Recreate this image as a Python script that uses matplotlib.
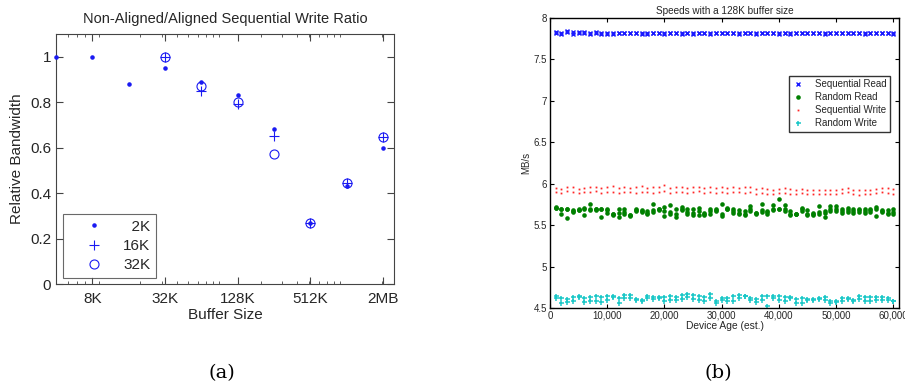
import matplotlib
matplotlib.use("Agg")
import matplotlib.pyplot as plt
from matplotlib.ticker import FixedLocator, FuncFormatter, LogLocator, NullFormatter
import numpy as np

# ---------------- Panel (a) data ----------------
buffer_k = [4, 8, 16, 32, 64, 128, 256, 512, 1024, 2048]
tick_vals = [8, 32, 128, 512, 2048]
tick_labels = ["8K", "32K", "128K", "512K", "2MB"]
ratio_2k = [1.0, 1.0, 0.88, 0.95, 0.89, 0.83, 0.68, 0.27, 0.43, 0.60]
buffer_k_big = [32, 64, 128, 256, 512, 1024, 2048]
ratio_16k = [1.0, 0.85, 0.79, 0.65, 0.27, 0.445, 0.645]
ratio_32k = [1.0, 0.87, 0.80, 0.57, 0.27, 0.445, 0.645]
legend_a = ["  2K", "16K", "32K"]

# ---------------- Panel (b) data ----------------
age = [1000 * k for k in range(1, 61)]
seq_read_1 = [7.83, 7.82, 7.84, 7.83, 7.83, 7.83, 7.82, 7.83, 7.82, 7.82,
              7.82, 7.82, 7.82, 7.82, 7.82, 7.82, 7.82, 7.82, 7.82, 7.82,
              7.82, 7.82, 7.82, 7.82, 7.82, 7.82, 7.82, 7.82, 7.82, 7.82,
              7.82, 7.82, 7.82, 7.82, 7.82, 7.82, 7.82, 7.82, 7.82, 7.82,
              7.82, 7.82, 7.82, 7.82, 7.82, 7.82, 7.82, 7.82, 7.82, 7.82,
              7.82, 7.82, 7.82, 7.82, 7.82, 7.82, 7.82, 7.82, 7.82, 7.82]
seq_read_2 = [7.82, 7.81, 7.83, 7.81, 7.82, 7.82, 7.81, 7.82, 7.81, 7.81,
              7.81, 7.82, 7.82, 7.82, 7.82, 7.81, 7.81, 7.82, 7.82, 7.81,
              7.82, 7.82, 7.81, 7.82, 7.81, 7.82, 7.82, 7.81, 7.82, 7.82,
              7.82, 7.82, 7.81, 7.82, 7.82, 7.81, 7.82, 7.82, 7.82, 7.81,
              7.82, 7.81, 7.82, 7.82, 7.82, 7.82, 7.82, 7.81, 7.82, 7.82,
              7.82, 7.82, 7.82, 7.82, 7.81, 7.82, 7.82, 7.82, 7.82, 7.81]
rand_read_1 = [5.72, 5.70, 5.69, 5.68, 5.69, 5.71, 5.76, 5.70, 5.69, 5.70,
               5.64, 5.70, 5.69, 5.62, 5.70, 5.68, 5.67, 5.75, 5.69, 5.72,
               5.74, 5.69, 5.72, 5.69, 5.70, 5.71, 5.65, 5.70, 5.69, 5.75,
               5.71, 5.69, 5.68, 5.67, 5.73, 5.65, 5.75, 5.67, 5.74, 5.82,
               5.74, 5.67, 5.64, 5.71, 5.68, 5.65, 5.73, 5.67, 5.73, 5.73,
               5.70, 5.71, 5.70, 5.70, 5.69, 5.70, 5.72, 5.68, 5.68, 5.69]
rand_read_2 = [5.71, 5.64, 5.59, 5.66, 5.68, 5.62, 5.68, 5.68, 5.60, 5.65,
               5.62, 5.65, 5.63, 5.61, 5.67, 5.66, 5.64, 5.66, 5.68, 5.61,
               5.64, 5.64, 5.68, 5.64, 5.65, 5.67, 5.62, 5.64, 5.67, 5.61,
               5.69, 5.65, 5.63, 5.62, 5.67, 5.64, 5.66, 5.64, 5.68, 5.69,
               5.67, 5.62, 5.63, 5.67, 5.62, 5.62, 5.64, 5.60, 5.67, 5.67,
               5.65, 5.66, 5.65, 5.66, 5.65, 5.66, 5.61, 5.66, 5.63, 5.64]
rand_read_3 = [5.71, 5.70, 5.69, 5.67, 5.68, 5.69, 5.69, 5.69, 5.69, 5.68,
               5.63, 5.60, 5.66, 5.62, 5.68, 5.67, 5.65, 5.68, 5.69, 5.67,
               5.66, 5.60, 5.70, 5.66, 5.62, 5.62, 5.64, 5.67, 5.68, 5.64,
               5.70, 5.67, 5.65, 5.64, 5.69, 5.65, 5.68, 5.66, 5.70, 5.70,
               5.70, 5.64, 5.64, 5.69, 5.64, 5.63, 5.66, 5.65, 5.70, 5.70,
               5.67, 5.68, 5.67, 5.68, 5.67, 5.68, 5.70, 5.67, 5.65, 5.66]
seq_write_1 = [5.95, 5.94, 5.96, 5.96, 5.94, 5.95, 5.96, 5.96, 5.95, 5.96,
               5.97, 5.95, 5.96, 5.95, 5.96, 5.97, 5.95, 5.96, 5.96, 5.98,
               5.95, 5.96, 5.96, 5.95, 5.96, 5.96, 5.95, 5.96, 5.95, 5.96,
               5.95, 5.96, 5.95, 5.96, 5.96, 5.94, 5.95, 5.94, 5.93, 5.94,
               5.95, 5.94, 5.93, 5.94, 5.93, 5.93, 5.92, 5.93, 5.92, 5.93,
               5.94, 5.95, 5.93, 5.92, 5.93, 5.93, 5.94, 5.95, 5.95, 5.94]
seq_write_2 = [5.90, 5.89, 5.91, 5.90, 5.89, 5.90, 5.90, 5.91, 5.89, 5.90,
               5.90, 5.89, 5.90, 5.90, 5.89, 5.90, 5.90, 5.89, 5.90, 5.91,
               5.89, 5.90, 5.90, 5.89, 5.90, 5.91, 5.89, 5.90, 5.89, 5.90,
               5.89, 5.90, 5.90, 5.89, 5.90, 5.88, 5.89, 5.88, 5.87, 5.89,
               5.89, 5.88, 5.87, 5.89, 5.88, 5.88, 5.87, 5.88, 5.87, 5.88,
               5.89, 5.90, 5.87, 5.86, 5.87, 5.88, 5.89, 5.90, 5.89, 5.88]
rand_write_1 = [4.65, 4.62, 4.61, 4.63, 4.64, 4.62, 4.63, 4.64, 4.63, 4.64,
                4.64, 4.62, 4.66, 4.66, 4.61, 4.60, 4.64, 4.63, 4.63, 4.63,
                4.64, 4.63, 4.66, 4.67, 4.66, 4.64, 4.63, 4.67, 4.59, 4.62,
                4.62, 4.64, 4.66, 4.65, 4.62, 4.61, 4.65, 4.65, 4.65, 4.65,
                4.63, 4.63, 4.61, 4.62, 4.61, 4.61, 4.62, 4.63, 4.59, 4.58,
                4.62, 4.62, 4.60, 4.65, 4.63, 4.63, 4.63, 4.63, 4.62, 4.59]
rand_write_2 = [4.62, 4.56, 4.57, 4.59, 4.63, 4.57, 4.59, 4.58, 4.57, 4.60,
                4.63, 4.56, 4.62, 4.62, 4.60, 4.59, 4.62, 4.61, 4.62, 4.59,
                4.60, 4.60, 4.61, 4.63, 4.61, 4.60, 4.59, 4.62, 4.56, 4.60,
                4.58, 4.59, 4.62, 4.64, 4.60, 4.57, 4.60, 4.53, 4.62, 4.60,
                4.58, 4.62, 4.56, 4.56, 4.60, 4.60, 4.61, 4.60, 4.56, 4.57,
                4.59, 4.61, 4.58, 4.61, 4.58, 4.59, 4.60, 4.60, 4.60, 4.58]

W, H = 905, 387
fig = plt.figure(figsize=(W / 100, H / 100), dpi=100)
sans = ["Liberation Sans", "DejaVu Sans"]
txt = "#262626"


def px_axes(l, t, r, b):
    return fig.add_axes([l / W, 1 - b / H, (r - l) / W, (b - t) / H])


# ---------------- Panel (a) ----------------
ax1 = px_axes(56, 34, 394, 284)
blue = (0.1, 0.1, 0.95)
ax1.plot(buffer_k, ratio_2k, linestyle="none", marker=".", markersize=4.5,
         color=blue, label=legend_a[0], clip_on=False, zorder=5)
ax1.plot(buffer_k_big, ratio_16k, linestyle="none", marker="+", markersize=7,
         markeredgewidth=0.8, color=blue, label=legend_a[1])
ax1.plot(buffer_k_big, ratio_32k, linestyle="none", marker="o", markersize=6.5,
         markerfacecolor="none", markeredgewidth=0.8, color=blue, label=legend_a[2])
ax1.set_xscale("log")
ax1.set_xlim(4, 2520)
ax1.set_ylim(0, 1.1)
ax1.xaxis.set_major_locator(FixedLocator(tick_vals))
ax1.xaxis.set_major_formatter(FuncFormatter(
    lambda v, p: tick_labels[tick_vals.index(int(round(v)))] if int(round(v)) in tick_vals else ""))
ax1.xaxis.set_minor_locator(LogLocator(base=10, subs=np.arange(2, 10)))
ax1.xaxis.set_minor_formatter(NullFormatter())
ax1.set_yticks([0, 0.2, 0.4, 0.6, 0.8, 1.0])
ax1.set_yticklabels(["0", "0.2", "0.4", "0.6", "0.8", "1"])
ax1.tick_params(axis="both", which="both", direction="in", top=True, right=True,
                labelsize=11, labelcolor=txt, color="#444444")
ax1.tick_params(axis="both", which="major", length=5)
ax1.tick_params(axis="x", which="major", pad=5.5)
ax1.tick_params(axis="both", which="minor", length=2.5)
for lab in ax1.get_xticklabels() + ax1.get_yticklabels():
    lab.set_family(sans)
for s in ax1.spines.values():
    s.set_color("#444444")
    s.set_linewidth(0.8)
ax1.set_title("Non-Aligned/Aligned Sequential Write Ratio", fontsize=10.5,
              family=sans, color=txt, pad=8)
ax1.set_xlabel("Buffer Size", fontsize=11, family=sans, color=txt, labelpad=2)
ax1.set_ylabel("Relative Bandwidth", fontsize=11, family=sans, color=txt, labelpad=4)
leg1 = ax1.legend(loc="lower left", bbox_to_anchor=(0.02, 0.025),
                  prop={"family": sans, "size": 11}, frameon=True, fancybox=False,
                  edgecolor="#444444", handlelength=3.4, handletextpad=0.2,
                  borderpad=0.35, labelspacing=0.35, borderaxespad=0)
leg1.get_frame().set_linewidth(0.8)
for t in leg1.get_texts():
    t.set_color(txt)

# ---------------- Panel (b) ----------------
ax2 = px_axes(550, 18, 899, 308)
c_blue = (0.1, 0.1, 1.0)
c_green = (0.0, 0.5, 0.0)
c_red = (1.0, 0.15, 0.15)
c_cyan = (0.1, 0.78, 0.78)
ax2.plot(age, seq_read_1, "x", color=c_blue, markersize=3, markeredgewidth=1.0,
         label="Sequential Read")
ax2.plot(age, seq_read_2, "x", color=c_blue, markersize=3, markeredgewidth=1.0)
ax2.plot(age, rand_read_1, "o", color=c_green, markersize=3.3, markeredgewidth=0,
         label="Random Read")
ax2.plot(age, rand_read_2, "o", color=c_green, markersize=3.3, markeredgewidth=0)
ax2.plot(age, rand_read_3, "o", color=c_green, markersize=3.3, markeredgewidth=0)
ax2.plot(age, seq_write_1, "s", color=c_red, markersize=1.3, markeredgewidth=0,
         label="Sequential Write")
ax2.plot(age, seq_write_2, "s", color=c_red, markersize=1.3, markeredgewidth=0)
ax2.plot(age, rand_write_1, "+", color=c_cyan, markersize=3.6, markeredgewidth=1.1,
         label="Random Write")
ax2.plot(age, rand_write_2, "+", color=c_cyan, markersize=3.6, markeredgewidth=1.1)
ax2.set_xlim(0, 61000)
ax2.set_ylim(4.5, 8)
ax2.set_xticks([0, 10000, 20000, 30000, 40000, 50000, 60000])
ax2.set_xticklabels(["0", "10,000", "20,000", "30,000", "40,000", "50,000", "60,000"])
ax2.set_yticks([4.5, 5, 5.5, 6, 6.5, 7, 7.5, 8])
ax2.set_yticklabels(["4.5", "5", "5.5", "6", "6.5", "7", "7.5", "8"])
ax2.tick_params(axis="both", direction="in", top=True, right=True, length=3,
                labelsize=7, labelcolor=txt, pad=2, width=0.8)
for lab in ax2.get_xticklabels() + ax2.get_yticklabels():
    lab.set_family(sans)
for s in ax2.spines.values():
    s.set_color("black")
    s.set_linewidth(1.0)
ax2.set_title("Speeds with a 128K buffer size", fontsize=7.2, family=sans,
              color=txt, pad=3)
ax2.set_xlabel("Device Age (est.)", fontsize=7.4, family=sans, color=txt, labelpad=0)
ax2.set_ylabel("MB/s", fontsize=7, family=sans, color=txt, labelpad=1.5)
leg2 = ax2.legend(loc="upper right", bbox_to_anchor=(0.975, 0.80),
                  prop={"family": sans, "size": 7}, frameon=True, fancybox=False,
                  edgecolor="black", handlelength=1.2, handletextpad=1.2,
                  borderpad=0.35, labelspacing=0.3, borderaxespad=0, markerscale=1.0)
leg2.get_frame().set_linewidth(1.0)
for t in leg2.get_texts():
    t.set_color(txt)

# ---------------- captions ----------------
serif = ["DejaVu Serif"]
fig.text(222 / W, 1 - 373 / H, "(a)", ha="center", va="center", fontsize=14,
         family=serif, color="black")
fig.text(718 / W, 1 - 373 / H, "(b)", ha="center", va="center", fontsize=14,
         family=serif, color="black")

fig.savefig("out.png", dpi=100)
